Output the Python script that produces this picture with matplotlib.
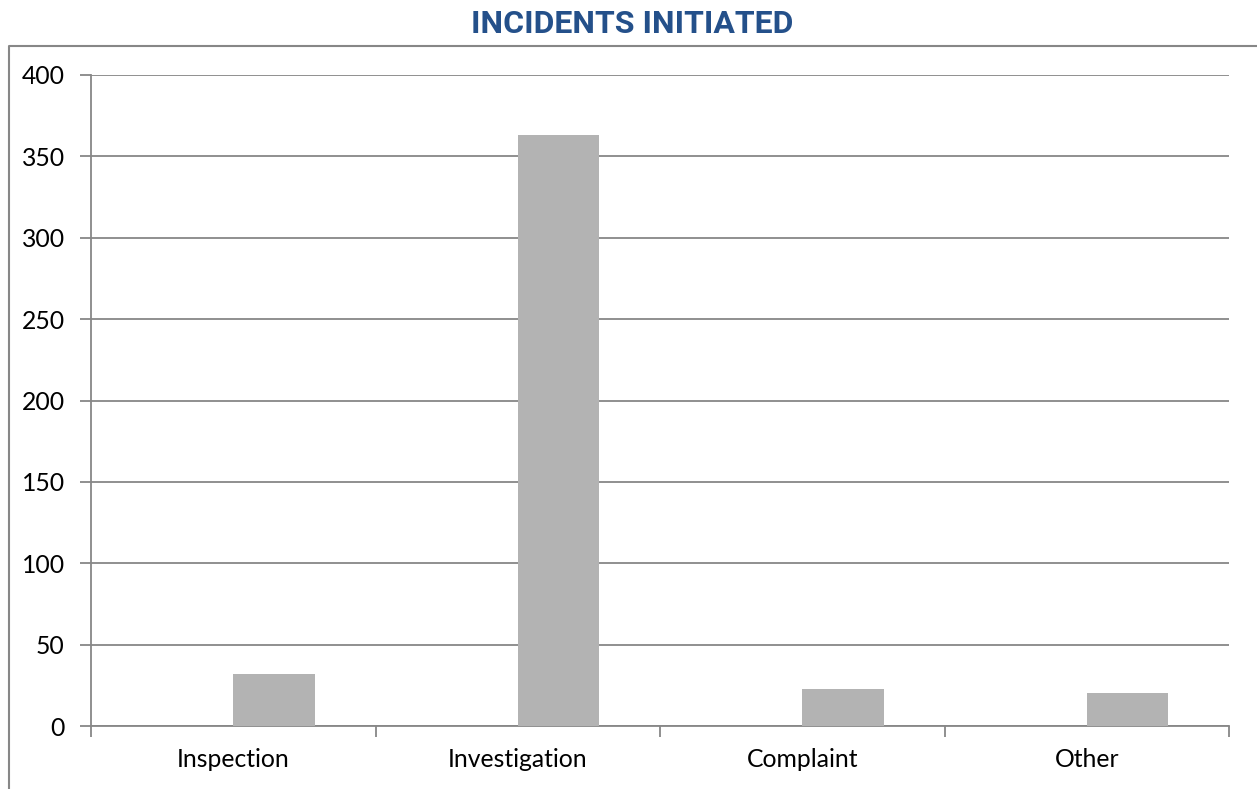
import matplotlib
matplotlib.use("Agg")
import matplotlib.pyplot as plt
from matplotlib.lines import Line2D

categories = ["Inspection", "Investigation", "Complaint", "Other"]
values = [32, 363, 23, 20]
yticks = [0, 50, 100, 150, 200, 250, 300, 350, 400]
title = "INCIDENTS INITIATED"

W, H = 1257, 789
fig = plt.figure(figsize=(W / 100, H / 100), dpi=100)
ax = fig.add_axes([91 / W, 1 - 726 / H, (1229 - 91) / W, (726 - 75) / H])

x = list(range(len(categories)))
ax.bar(x, values, width=0.286, align="edge", color="#B3B3B3", zorder=3)

ax.set_xlim(-0.5, len(categories) - 0.5)
ax.set_ylim(0, 400)
ax.set_yticks(yticks)
ax.yaxis.grid(True, color="#878787", linewidth=1.3, zorder=0)
ax.set_axisbelow(True)

ax.set_xticks([i - 0.5 for i in range(len(categories) + 1)])
ax.set_xticklabels([])
ax.set_xticks(x, minor=True)
ax.set_xticklabels(categories, minor=True)
ax.tick_params(axis="x", which="minor", length=0, pad=16, labelsize=17.8)
ax.tick_params(axis="x", which="major", length=8, color="#878787", width=1.3)
ax.tick_params(axis="y", length=8, color="#878787", width=1.3, pad=11, labelsize=17.8)

for s in ["top", "right"]:
    ax.spines[s].set_visible(False)
for s in ["left", "bottom"]:
    ax.spines[s].set_color("#878787")
    ax.spines[s].set_linewidth(1.3)

for lbl in ax.get_xticklabels(minor=True) + ax.get_yticklabels():
    lbl.set_family(["Lato", "DejaVu Sans"])
    lbl.set_color("#000000")

fig.text(632 / W, 1 - 24 / H, title, ha="center", va="center",
         fontsize=23, fontweight="bold", color="#24508A",
         family=["Roboto", "DejaVu Sans"])

# outer chart border
bx, by = 8.5 / W, 1 - 45.5 / H
fig.add_artist(Line2D([bx, bx, 1.0], [0, by, by], transform=fig.transFigure,
                      color="#878787", linewidth=1.5))

fig.savefig("out.png", dpi=100, facecolor="white")
